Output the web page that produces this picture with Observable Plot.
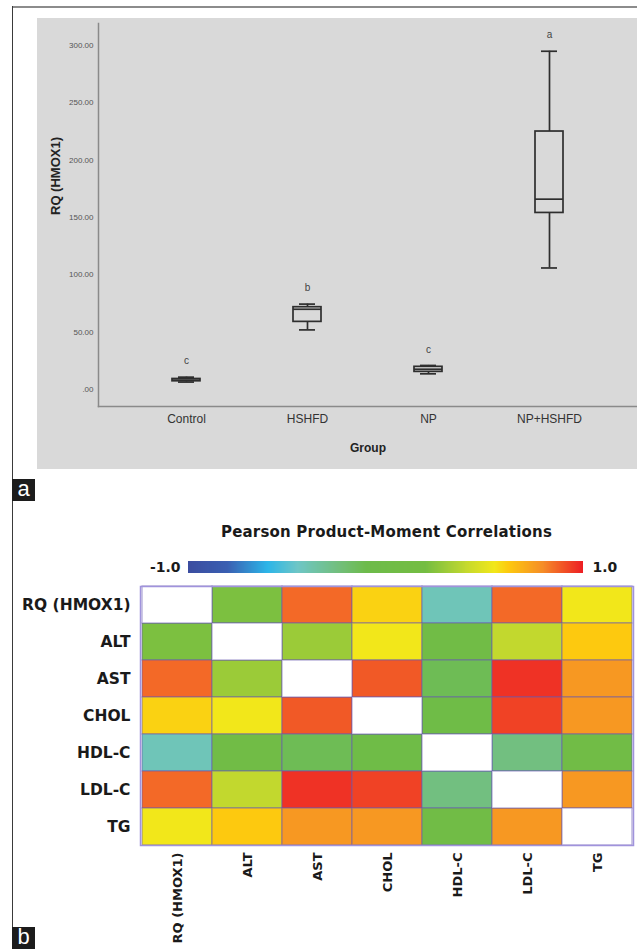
<!DOCTYPE html>
<html><head><meta charset="utf-8">
<script src="https://cdn.jsdelivr.net/npm/d3@7"></script>
<script src="https://cdn.jsdelivr.net/npm/@observablehq/plot@0.6"></script>
<style>
html,body{margin:0;padding:0;background:#fff}
body{width:637px;height:949px;overflow:hidden;position:relative;font-family:"Liberation Sans",Arial,sans-serif}
.abs{position:absolute}
.tag{position:absolute;width:23px;height:22px;background:#1c1c1c;color:#fff;font:22px "Liberation Sans",Arial,sans-serif;line-height:19px;text-align:center}
#title{position:absolute;left:140px;width:493px;top:522px;text-align:center;font:bold 15px "DejaVu Sans",sans-serif;line-height:20px;color:#1a1a1a;letter-spacing:0.2px}
</style></head><body>
<div class="abs" style="left:12px;top:6px;width:625px;height:2px;background:#8c8c8c"></div>
<div class="abs" style="left:12px;top:6px;width:1px;height:922px;background:#3a3a3a"></div>
<div id="boxplot" class="abs" style="left:37px;top:18px"></div>
<div class="tag" style="left:12px;top:479px">a</div>
<div id="title">Pearson Product-Moment Correlations</div>
<div id="ramp" class="abs" style="left:0;top:555px"></div>
<div id="heat" class="abs" style="left:0;top:576px"></div>
<div class="tag" style="left:12px;top:927px">b</div>
<script>
// ---- Panel a: box plot summary values ----
const groups = ["Control", "HSHFD", "NP", "NP+HSHFD"];
const whiskerLow = [6.5, 52, 13.7, 106];
const q1 = [7.2, 59, 15.4, 154];
const median = [8.2, 70, 17.7, 166];
const q3 = [9.2, 71.8, 19.8, 225];
const whiskerHigh = [10.8, 74.5, 21, 295];
const letters = ["c", "b", "c", "a"];
const yTicks = [0, 50, 100, 150, 200, 250, 300];

// ---- Panel b: correlation matrix ----
const vars = ["RQ (HMOX1)", "ALT", "AST", "CHOL", "HDL-C", "LDL-C", "TG"];
const corrRQ   = [1, 0.22, 0.86, 0.60, -0.41, 0.86, 0.55];
const corrALT  = [0.22, 1, 0.30, 0.55, 0.05, 0.40, 0.62];
const corrAST  = [0.86, 0.30, 1, 0.89, -0.13, 0.96, 0.76];
const corrCHOL = [0.60, 0.55, 0.89, 1, 0.00, 0.93, 0.76];
const corrHDL  = [-0.41, 0.05, -0.13, 0.00, 1, -0.25, 0.05];
const corrLDL  = [0.86, 0.40, 0.96, 0.93, -0.25, 1, 0.76];
const corrTG   = [0.55, 0.62, 0.76, 0.76, 0.05, 0.76, 1];
const legendTicks = [-1, 1];
const legendLabels = ["-1.0", "1.0"];

// colour scale stops
const colorStops = [-1, -0.8, -0.6, -0.45, -0.25, -0.1, 0.2, 0.4, 0.55, 0.62, 0.8, 1];
const colorRange = ["#3b4da0", "#3a5fb2", "#2cb5e8", "#6ec6c6", "#72bf80", "#6dbb4a", "#74bd42", "#c2d82e", "#f2e71a", "#fdc90f", "#f58a28", "#ed1c24"];

const boxes = groups.map((g, i) => ({group: g, lo: whiskerLow[i], q1: q1[i], med: median[i], q3: q3[i], hi: whiskerHigh[i], letter: letters[i]}));
const ink = "#2e2e2e";
const sw = 1.7;
const boxPlot = Plot.plot({
  width: 600, height: 451, marginLeft: 61, marginRight: 0, marginTop: 5, marginBottom: 63,
  style: {background: "#d9d9d9", fontFamily: "Liberation Sans, Arial, sans-serif", overflow: "visible"},
  x: {type: "band", domain: groups, paddingInner: 0.77, paddingOuter: 0.6, axis: null},
  y: {domain: [-14.8, 319.2], axis: null},
  marks: [
    Plot.frame({anchor: "left", stroke: "#8a8a8a", strokeWidth: 1.5}),
    Plot.frame({anchor: "bottom", stroke: "#8a8a8a", strokeWidth: 1.5}),
    Plot.axisY(yTicks, {tickSize: 0, tickPadding: 5, tickFormat: d => d === 0 ? ".00" : d.toFixed(2), fontSize: 8, fill: "#555", label: null}),
    Plot.axisX({tickSize: 0, tickPadding: 8, fontSize: 12, fill: "#333", label: null}),
    Plot.ruleX(boxes, {x: "group", y1: "lo", y2: "q1", stroke: ink, strokeWidth: sw}),
    Plot.ruleX(boxes, {x: "group", y1: "q3", y2: "hi", stroke: ink, strokeWidth: sw}),
    Plot.barY(boxes, {x: "group", y1: "q1", y2: "q3", fill: "none", stroke: ink, strokeWidth: sw}),
    Plot.tickY(boxes, {x: "group", y: "med", stroke: ink, strokeWidth: sw}),
    Plot.tickY(boxes, {x: "group", y: "lo", stroke: ink, strokeWidth: sw, insetLeft: 6, insetRight: 6}),
    Plot.tickY(boxes, {x: "group", y: "hi", stroke: ink, strokeWidth: sw, insetLeft: 6, insetRight: 6}),
    Plot.text(boxes, {x: "group", y: "hi", text: "letter", dy: -16, fontSize: 10, fill: "#444"}),
    Plot.text(["RQ (HMOX1)"], {frameAnchor: "left", dx: -43, rotate: -90, fontWeight: "bold", fontSize: 13, fill: "#222"}),
    Plot.text(["Group"], {frameAnchor: "bottom", dy: 45, fontWeight: "bold", fontSize: 12, fill: "#222"})
  ]
});
document.getElementById("boxplot").appendChild(boxPlot);

const colorScale = {type: "linear", domain: colorStops, range: colorRange, interpolate: "rgb"};

// colour ramp legend
const step = 0.005;
const ramp = d3.range(-1, 1, step).map(v => ({v}));
const rampPlot = Plot.plot({
  width: 637, height: 24, marginLeft: 188, marginRight: 54, marginTop: 6, marginBottom: 6,
  style: {fontFamily: "DejaVu Sans, sans-serif", overflow: "visible"},
  x: {domain: [-1, 1], axis: null},
  color: colorScale,
  marks: [
    Plot.rect(ramp, {x1: "v", x2: d => Math.min(1, d.v + step * 1.5), fill: "v", shapeRendering: "crispEdges"}),
    Plot.text([legendTicks[0]], {x: d => d, text: () => legendLabels[0], textAnchor: "end", dx: -8, fontWeight: "bold", fontSize: 14, fill: "#1a1a1a"}),
    Plot.text([legendTicks[1]], {x: d => d, text: () => legendLabels[1], textAnchor: "start", dx: 9, fontWeight: "bold", fontSize: 14, fill: "#1a1a1a"})
  ]
});
document.getElementById("ramp").appendChild(rampPlot);

// heatmap
const corr = [corrRQ, corrALT, corrAST, corrCHOL, corrHDL, corrLDL, corrTG];
const cells = [];
vars.forEach((r, i) => vars.forEach((c, j) => cells.push({row: r, col: c, v: corr[i][j], diag: i === j})));
const heat = Plot.plot({
  width: 637, height: 373, marginLeft: 140, marginRight: 4, marginTop: 10, marginBottom: 104,
  style: {fontFamily: "DejaVu Sans, sans-serif", overflow: "visible"},
  x: {type: "band", domain: vars, padding: 0, axis: null},
  y: {type: "band", domain: vars, padding: 0, axis: null},
  color: colorScale,
  marks: [
    Plot.cell(cells.filter(d => !d.diag), {x: "col", y: "row", fill: "v", stroke: "#6a5ab0", strokeOpacity: 0.55, strokeWidth: 1.2}),
    Plot.cell(cells.filter(d => d.diag), {x: "col", y: "row", fill: "white", stroke: "#6a5ab0", strokeOpacity: 0.55, strokeWidth: 1.2}),
    Plot.frame({stroke: "#a093dc", strokeWidth: 1.5}),
    Plot.axisY({tickSize: 0, tickPadding: 10, fontSize: 15.5, fontWeight: "bold", fill: "#1a1a1a", label: null}),
    Plot.axisX({tickSize: 0, tickPadding: 7, tickRotate: -90, fontSize: 13, fontWeight: "bold", fill: "#1a1a1a", label: null})
  ]
});
document.getElementById("heat").appendChild(heat);
</script>
</body></html>
